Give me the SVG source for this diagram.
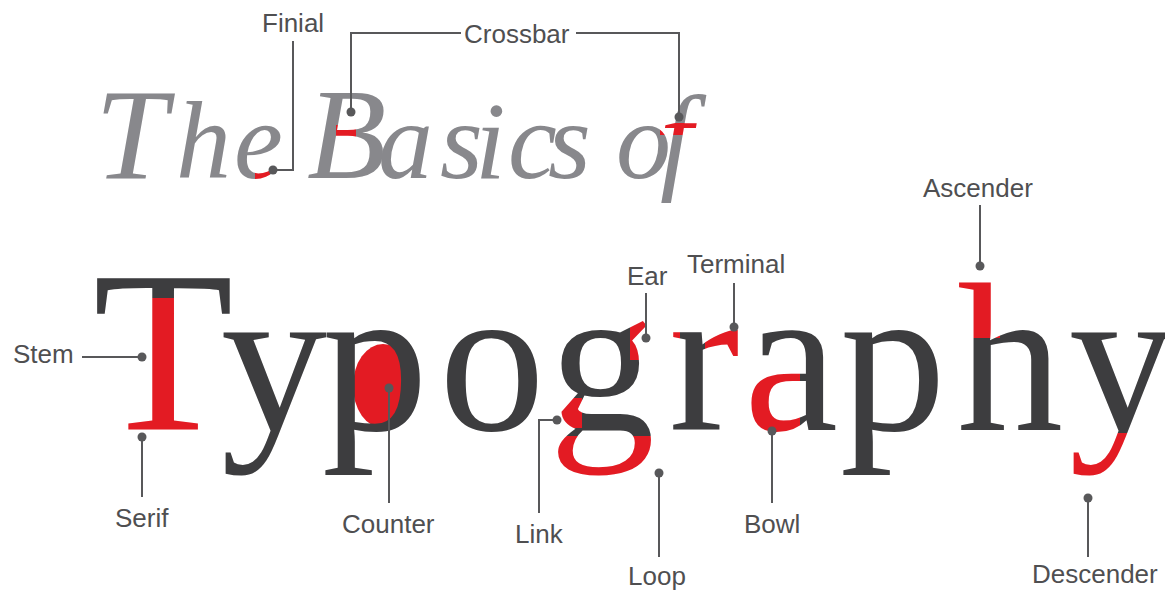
<svg xmlns="http://www.w3.org/2000/svg" width="1165" height="591" viewBox="0 0 1165 591">
<style>
.lbl{font-family:"Liberation Sans",Arial,sans-serif;font-size:26px;fill:#4f4f51}
.ttl{font-family:"Liberation Serif","Times New Roman",serif;font-style:italic;fill:url(#pTitle)}
.big{font-family:"Liberation Serif","Times New Roman",serif;fill:url(#pTypo)}
.red{fill:#e31b23}
.ln{stroke:#58585a;stroke-width:2;fill:none}
.dot{fill:#58585a}
</style>
<defs>
<pattern id="pTitle" patternUnits="userSpaceOnUse" x="0" y="0" width="1165" height="591">
<rect width="1165" height="591" fill="#88888c"/>
<rect class="red" x="255" y="160" width="15" height="20"/>
<rect class="red" x="336" y="125" width="20" height="12"/>
<rect class="red" x="660" y="123" width="48" height="12"/>
</pattern>
<pattern id="pTypo" patternUnits="userSpaceOnUse" x="0" y="0" width="1165" height="591">
<rect width="1165" height="591" fill="#3d3d3f"/>
<rect class="red" x="135" y="298" width="57" height="112"/>
<rect class="red" x="80" y="405" width="166" height="40"/>
<rect class="red" x="630" y="318" width="50" height="42"/>
<rect class="red" x="540" y="436" width="140" height="64"/>
<rect class="red" x="552" y="398" width="30" height="30"/>
<rect class="red" x="705" y="318" width="55" height="47"/>
<rect class="red" x="745" y="372" width="55" height="68"/>
<rect class="red" x="950" y="265" width="50" height="73"/>
<rect class="red" x="1060" y="433" width="105" height="70"/>
</pattern>
</defs>
<rect width="1165" height="591" fill="#ffffff"/>

<g id="title">
<text class="ttl" y="178"><tspan x="95" font-size="130">T</tspan><tspan x="176 234" font-size="110">he</tspan><tspan x="307" font-size="130">B</tspan><tspan x="378 440 475 508 548" font-size="110">asics</tspan><tspan x="616" font-size="110">o</tspan><tspan x="660" font-size="118">f</tspan></text>
</g>

<g id="typography">
<ellipse class="red" cx="383" cy="386" rx="30" ry="42"/>
<text class="big" y="430"><tspan x="93" font-size="230">T</tspan><tspan font-size="212" x="221 322 439 549 669 744 840 957 1069">ypography</tspan></text>
</g>

<g id="connectors">
<path class="ln" d="M293 41V170H273"/>
<path class="ln" d="M351 112V33H461M576 33H679V117"/>
<path class="ln" d="M82 357H142"/>
<path class="ln" d="M142 437V497"/>
<path class="ln" d="M389 388V503"/>
<path class="ln" d="M557 420H539V513"/>
<path class="ln" d="M659 473V557"/>
<path class="ln" d="M646 293V338"/>
<path class="ln" d="M734 283V327"/>
<path class="ln" d="M772 431V503"/>
<path class="ln" d="M980 205V266"/>
<path class="ln" d="M1088 498V557"/>
<circle class="dot" cx="273" cy="170" r="4.5"/>
<circle class="dot" cx="351" cy="112" r="4.5"/>
<circle class="dot" cx="679" cy="117" r="4.5"/>
<circle class="dot" cx="142" cy="357" r="4.5"/>
<circle class="dot" cx="142" cy="437" r="4.5"/>
<circle class="dot" cx="389" cy="388" r="4.5"/>
<circle class="dot" cx="557" cy="420" r="4.5"/>
<circle class="dot" cx="659" cy="473" r="4.5"/>
<circle class="dot" cx="646" cy="338" r="4.5"/>
<circle class="dot" cx="734" cy="327" r="4.5"/>
<circle class="dot" cx="772" cy="431" r="4.5"/>
<circle class="dot" cx="980" cy="266" r="4.5"/>
<circle class="dot" cx="1088" cy="498" r="4.5"/>
</g>

<g id="label-finial"><text class="lbl" x="262" y="32">Finial</text></g>
<g id="label-crossbar"><text class="lbl" x="464" y="43">Crossbar</text></g>
<g id="label-stem"><text class="lbl" x="13" y="363">Stem</text></g>
<g id="label-serif"><text class="lbl" x="115" y="527">Serif</text></g>
<g id="label-counter"><text class="lbl" x="342" y="533">Counter</text></g>
<g id="label-link"><text class="lbl" x="515" y="543">Link</text></g>
<g id="label-loop"><text class="lbl" x="628" y="585">Loop</text></g>
<g id="label-ear"><text class="lbl" x="627" y="285">Ear</text></g>
<g id="label-terminal"><text class="lbl" x="687" y="273">Terminal</text></g>
<g id="label-bowl"><text class="lbl" x="744" y="533">Bowl</text></g>
<g id="label-ascender"><text class="lbl" x="923" y="197">Ascender</text></g>
<g id="label-descender"><text class="lbl" x="1032" y="583">Descender</text></g>
</svg>
